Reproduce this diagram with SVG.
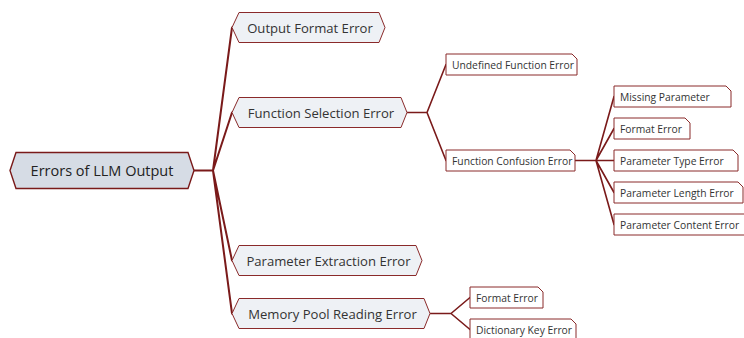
<svg xmlns="http://www.w3.org/2000/svg" width="744" height="338" viewBox="0 0 744 338">
  <style>
    .link { fill: none; stroke: #7a1a1a; stroke-width: 2; stroke-linejoin: round; stroke-linecap: round; }
    .link2 { fill: none; stroke: #7a1a1a; stroke-width: 1.6; stroke-linejoin: round; stroke-linecap: round; }
    .root { fill: #d6dce5; stroke: #7a1a1a; stroke-width: 1.4; }
    .main { fill: #eef1f5; stroke: #8a2a2a; stroke-width: 1; }
    .leaf { fill: #ffffff; stroke: #8a2a2a; stroke-width: 1; }
    text { font-family: "Open Sans", "Noto Sans", "Liberation Sans", sans-serif; fill: #333333; dominant-baseline: central; text-anchor: middle; }
    .t0 { font-size: 14.5px; fill: #222222; }
    .t1 { font-size: 13.1px; }
    .t2 { font-size: 10.3px; text-anchor: start; }
  </style>

  <!-- connectors -->
  <g id="connectors">
    <path class="link" d="M194,170.5 H213 M213,170.5 L232,27.5 M213,170.5 L232,112.5 M213,170.5 L232,260.5 M213,170.5 L232,313.5"/>
    <path class="link2" d="M407,112.5 H427 M427,112.5 L446,64.5 M427,112.5 L446,160.5"/>
    <path class="link2" d="M575,160.5 H596 M596,160.5 L614,96.5 M596,160.5 L614,128.5 M596,160.5 L614,160.5 M596,160.5 L614,192.5 M596,160.5 L614,224.5"/>
    <path class="link2" d="M430,313.5 H451 M451,313.5 L470,297.5 M451,313.5 L470,329.5"/>
  </g>

  <!-- root -->
  <g id="root">
    <polygon class="root" points="10,170.5 16,152.5 188,152.5 194,170.5 188,188.5 16,188.5"/>
    <text class="t0" x="102" y="170.5">Errors of LLM Output</text>
  </g>

  <!-- first level -->
  <g id="output-format-error">
    <polygon class="main" points="232,27.5 239,12.5 379,12.5 385,27.5 379,42.5 239,42.5"/>
    <text class="t1" x="310" y="27.5">Output Format Error</text>
  </g>
  <g id="function-selection-error">
    <polygon class="main" points="232,112.5 239,97.5 401,97.5 407,112.5 401,127.5 239,127.5"/>
    <text class="t1" x="321" y="112.5">Function Selection Error</text>
  </g>
  <g id="parameter-extraction-error">
    <polygon class="main" points="232,260.5 239,245.5 416,245.5 422,260.5 416,275.5 239,275.5"/>
    <text class="t1" x="328.5" y="260.5">Parameter Extraction Error</text>
  </g>
  <g id="memory-pool-reading-error">
    <polygon class="main" points="232,313.5 239,298.5 424,298.5 430,313.5 424,328.5 239,328.5"/>
    <text class="t1" x="332.5" y="313.5">Memory Pool Reading Error</text>
  </g>

  <!-- second level -->
  <g id="undefined-function-error">
    <polygon class="leaf" points="446,54 572,54 577,59 577,75 446,75"/>
    <text class="t2" x="452" y="64.5">Undefined Function Error</text>
  </g>
  <g id="function-confusion-error">
    <polygon class="leaf" points="446,150 570,150 575,155 575,171 446,171"/>
    <text class="t2" x="452" y="160.5">Function Confusion Error</text>
  </g>
  <g id="memory-format-error">
    <polygon class="leaf" points="470,287 538,287 543,292 543,308 470,308"/>
    <text class="t2" x="476" y="297.5">Format Error</text>
  </g>
  <g id="dictionary-key-error">
    <polygon class="leaf" points="470,319 571,319 576,324 576,340 470,340"/>
    <text class="t2" x="476" y="329.5">Dictionary Key Error</text>
  </g>

  <!-- third level -->
  <g id="missing-parameter">
    <polygon class="leaf" points="614,86 726,86 731,91 731,107 614,107"/>
    <text class="t2" x="620" y="96.5">Missing Parameter</text>
  </g>
  <g id="format-error">
    <polygon class="leaf" points="614,118 685,118 690,123 690,139 614,139"/>
    <text class="t2" x="620" y="128.5">Format Error</text>
  </g>
  <g id="parameter-type-error">
    <polygon class="leaf" points="614,150 733,150 738,155 738,171 614,171"/>
    <text class="t2" x="620" y="160.5">Parameter Type Error</text>
  </g>
  <g id="parameter-length-error">
    <polygon class="leaf" points="614,182 738,182 743,187 743,203 614,203"/>
    <text class="t2" x="620" y="192.5">Parameter Length Error</text>
  </g>
  <g id="parameter-content-error">
    <polygon class="leaf" points="614,214 745,214 750,219 750,235 614,235"/>
    <text class="t2" x="620" y="224.5">Parameter Content Error</text>
  </g>
</svg>
